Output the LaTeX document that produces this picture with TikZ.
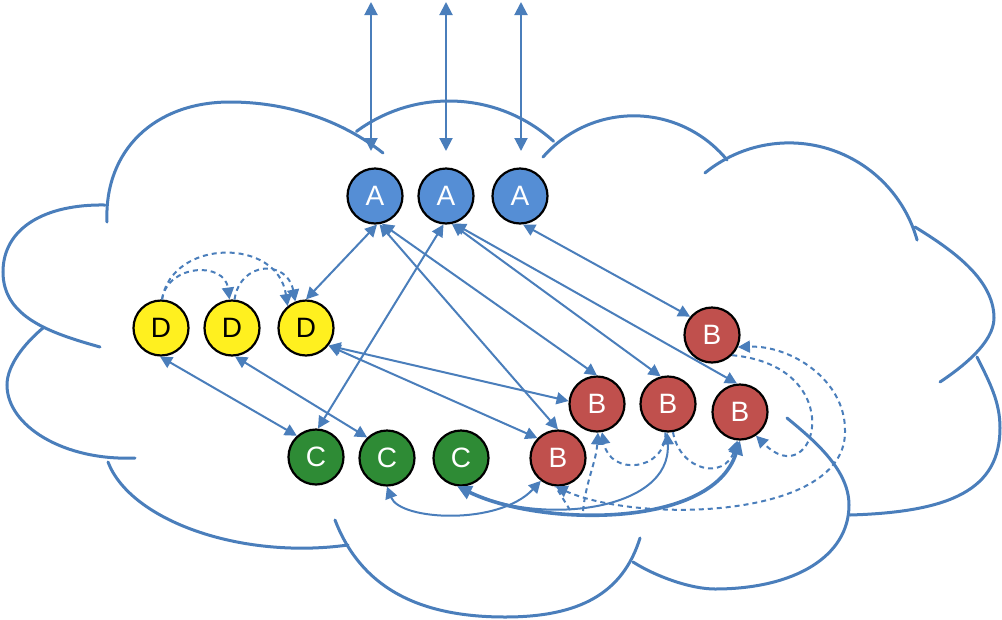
\documentclass[tikz,border=0pt]{standalone}
\usepackage{fontspec}
\setmainfont{Liberation Sans}
\usetikzlibrary{arrows.meta}
\definecolor{lineblue}{HTML}{4A7EBB}
\definecolor{fillA}{HTML}{558ED5}
\definecolor{fillB}{HTML}{C0504D}
\definecolor{fillC}{HTML}{2E8B35}
\definecolor{fillD}{HTML}{FFF01F}
\begin{document}
\begin{tikzpicture}[x=1pt,y=-1pt,
  cloudline/.style={draw=lineblue, line width=3pt, line cap=round},
  nodecirc/.style={circle, draw=black, line width=2.2pt, minimum size=55pt, inner sep=0pt, font=\fontsize{28}{30}\selectfont},
  conn/.style={draw=lineblue, line width=2pt, {Triangle[length=12pt,width=12pt]}-{Triangle[length=12pt,width=12pt]}},
  bigconn/.style={draw=lineblue, line width=2pt, {Triangle[length=13pt,width=13pt]}-{Triangle[length=13pt,width=13pt]}},
  thickconn/.style={draw=lineblue, line width=3.6pt, {Triangle[length=14pt,width=14pt]}-{Triangle[length=14pt,width=14pt]}},
  dline/.style={draw=lineblue, line width=2pt, dash pattern=on 5pt off 4pt},
  dconn/.style={dline, -{Triangle[length=12pt,width=12pt]}},
  dbi/.style={dline, {Triangle[length=12pt,width=12pt]}-{Triangle[length=12pt,width=12pt]}}
]
\useasboundingbox (0,0) rectangle (1002,619);

% ---- cloud outline ----
\draw[cloudline] (107,222) .. controls (104,150) and (155,102) .. (230,102)
                 .. controls (285,102) and (340,119) .. (383,153);
\draw[cloudline] (449,257) ++(-126.4:156) arc[start angle=-126.4, end angle=-47.9, radius=156];
\draw[cloudline] (633.8,236.3) ++(-138.9:120.5) arc[start angle=-138.9, end angle=-39.3, radius=120.5];
\draw[cloudline] (789.1,275.8) ++(-129.3:132.9) arc[start angle=-129.3, end angle=-15.6, radius=132.9];
\draw[cloudline] (915,227) .. controls (949,248) and (994,278) .. (994,318)
                 .. controls (994,343) and (961,368) .. (940,382);
\draw[cloudline] (977,357) .. controls (990,383) and (1000,402) .. (1000,428)
                 .. controls (1000,490) and (950,512) .. (850,515);
\draw[cloudline] (787,418) .. controls (815,441) and (849,470) .. (849,505)
                 .. controls (849,556) and (795,589) .. (715,589)
                 .. controls (690,589) and (655,576) .. (633,562);
\draw[cloudline] (640,538) .. controls (623,593) and (580,617) .. (505,617)
                 .. controls (415,617) and (360,585) .. (335,520);
\draw[cloudline] (348,545) .. controls (240,560) and (130,520) .. (108,462);
\draw[cloudline] (135,458) .. controls (64,461) and (7,426) .. (7,385)
                 .. controls (7,365) and (25,343) .. (43,328);
\draw[cloudline] (100,347) .. controls (50,333) and (3,317) .. (3,272)
                 .. controls (3,228) and (45,204) .. (105,205);

% ---- nodes ----
\node[nodecirc, fill=fillA, text=white] (A1) at (375,196) {A};
\node[nodecirc, fill=fillA, text=white] (A2) at (446,196) {A};
\node[nodecirc, fill=fillA, text=white] (A3) at (520,196) {A};
\node[nodecirc, fill=fillD, text=black] (D1) at (161,328) {D};
\node[nodecirc, fill=fillD, text=black] (D2) at (232,328) {D};
\node[nodecirc, fill=fillD, text=black] (D3) at (306,328) {D};
\node[nodecirc, fill=fillC, text=white] (C1) at (316,457) {C};
\node[nodecirc, fill=fillC, text=white] (C2) at (387,458) {C};
\node[nodecirc, fill=fillC, text=white] (C3) at (461,458) {C};
\node[nodecirc, fill=fillB, text=white] (B1) at (558,458) {B};
\node[nodecirc, fill=fillB, text=white] (B2) at (597,404) {B};
\node[nodecirc, fill=fillB, text=white] (B3) at (668,404) {B};
\node[nodecirc, fill=fillB, text=white] (B4) at (740,412) {B};
\node[nodecirc, fill=fillB, text=white] (B5) at (712,335) {B};

% ---- top arrows ----
\coordinate (t1a) at (371,2);   \coordinate (t1b) at (371,151);
\coordinate (t2a) at (446,2);   \coordinate (t2b) at (446,151);
\coordinate (t3a) at (521,2);   \coordinate (t3b) at (521,151);
\draw[bigconn] (t1a) -- (t1b);
\draw[bigconn] (t2a) -- (t2b);
\draw[bigconn] (t3a) -- (t3b);

% ---- straight connectors ----
\draw[conn] (A1.-86) -- (D3.90);
\draw[conn] (A1.-81) -- (B1.90);
\draw[conn] (A1.-76) -- (B2.90);
\draw[conn] (A2.-95) -- (C1.86);
\draw[conn] (A2.-78) -- (B3.105);
\draw[conn] (A2.-74) -- (B4.96);
\draw[conn] (A3.-84) -- (B5.140);
\draw[conn] (D1.-92) -- (C1.132);
\draw[conn] (D2.-84) -- (C2.134);
\draw[conn] (D3.-38) -- (B2.174);
\draw[conn] (D3.-38) -- (B1.136);

% ---- dashed arcs among D ----
\draw[dconn] (D1.88) .. controls +(6,-36) and +(-5,-38) .. (D2.95);
\draw[dconn] (D1.88) .. controls +(10,-61) and +(-10,-69) .. (D3.130);
\draw[dconn] (D2.85) .. controls +(6,-39) and +(-8,-42) .. (D3.112);

% ---- curved connectors among B and C ----
\draw[conn] (C2.-90) .. controls +(13,34) and +(-42,45) .. (B1.-127);
\draw[thickconn] (C3.-97) .. controls +(82,40) and +(-28,89) .. (B4.-90);
\draw[conn] (C3.-97) .. controls +(82,40) and +(5,79) .. (B3.-92);

\coordinate (pb1) at (570,510);
\coordinate (pb2) at (583,511);
\coordinate (loopR) at (845,430);
\draw[dline] (pb1) -- (B1.-95);
\draw[dconn] (pb2) .. controls +(3,-30) and +(-2,30) .. (B2.-88);
\draw[dconn] (B3.-95) .. controls +(0,39) and +(8,44) .. (B2.-80);
\draw[dconn] (B3.-80) .. controls +(7,39) and +(-13,40) .. (B4.-95);
\draw[dconn] (B5.-45) .. controls +(119,11) and +(60,60) .. (B4.-56);
\draw[dbi] (B1.-95) .. controls +(82,37) and +(3,90) .. (loopR) .. controls +(0,-50) and +(53,-2) .. (B5.-25);
\end{tikzpicture}
\end{document}
